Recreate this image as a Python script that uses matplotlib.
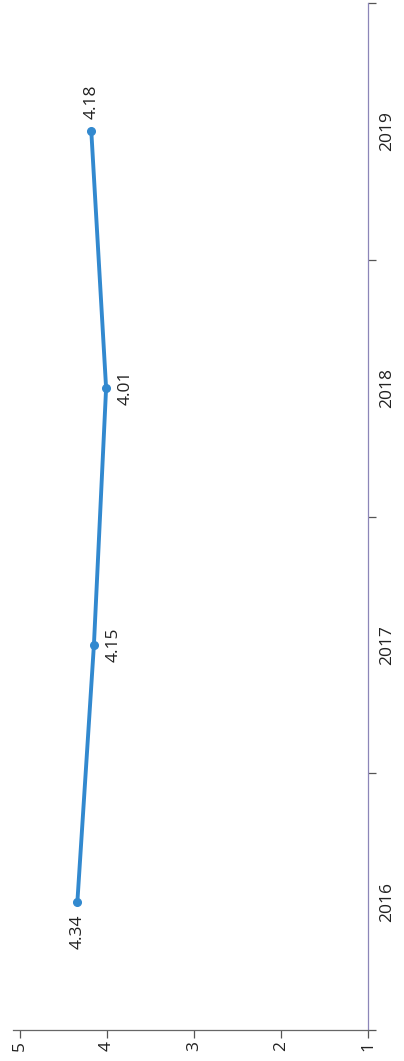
import matplotlib
matplotlib.use("Agg")
import matplotlib.pyplot as plt
from matplotlib.ticker import FixedLocator

plt.rcParams['font.family'] = ['Open Sans', 'DejaVu Sans']

years = ['2016', '2017', '2018', '2019']
values = [4.34, 4.15, 4.01, 4.18]
value_ticks = [1, 2, 3, 4, 5]
label_offsets = [(0, -22), (14, 0), (14, 0), (0, 21)]  # points: 2016 below, 2017/2018 right, 2019 above

W, H = 404, 1061
fig = plt.figure(figsize=(W / 100, H / 100), dpi=100)
ax = fig.add_axes([13 / W, (H - 1030) / H, (368 - 13) / W, (1030 - 3) / H])

pos = list(range(len(years)))
line_color = '#3289cf'
ax.plot(values, pos, color=line_color, lw=2.8, marker='o', ms=5.5, zorder=3)

FS = 12.5
for v, p, off in zip(values, pos, label_offsets):
    ax.annotate(f'{v:.2f}', (v, p), xytext=off, textcoords='offset points',
                rotation=90, ha='center', va='center', fontsize=FS, color='#222222')

ax.set_xlim(5.08, 1)
ax.set_ylim(-0.5, len(years) - 0.5)

ax.set_xticks(value_ticks)
ax.set_xticklabels([str(t) for t in value_ticks], rotation=90, fontsize=FS, color='#222222')
ax.tick_params(axis='x', direction='out', length=6, width=0.9, color='#555555', pad=2)

ax.yaxis.tick_right()
ax.set_yticks(pos)
ax.set_yticklabels(years, rotation=90, va='center', fontsize=FS, color='#222222')
ax.yaxis.set_minor_locator(FixedLocator([p - 0.5 for p in pos] + [pos[-1] + 0.5]))
ax.tick_params(axis='y', which='major', length=0, pad=8)
ax.tick_params(axis='y', which='minor', direction='out', length=6, width=0.9, color='#555555', right=True, left=False)

for s in ['top', 'left']:
    ax.spines[s].set_visible(False)
ax.spines['bottom'].set_color('#666666')
ax.spines['bottom'].set_linewidth(0.9)
ax.spines['right'].set_color('#8c86b8')
ax.spines['right'].set_linewidth(0.9)

fig.savefig('out.png', dpi=100)
